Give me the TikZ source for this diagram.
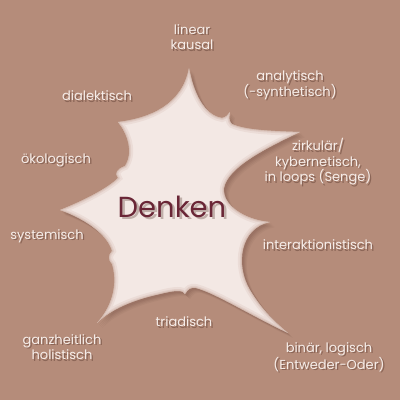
\documentclass[tikz,border=0pt]{standalone}
\usepackage{fontspec}
\setmainfont{Poppins}
\definecolor{bgbrown}{HTML}{B58C7A}
\definecolor{blobfill}{HTML}{F3E8E4}
\definecolor{labeltext}{HTML}{F6EDE9}
\definecolor{denkencol}{HTML}{6A2636}
\definecolor{shadowcol}{HTML}{4A2A20}
\colorlet{denkenshadow}{shadowcol!30!blobfill}
\newcommand\blobpath{(189,68) .. controls (195,100) and (208,116) .. (222,118)
  .. controls (226,117) and (228,115) .. (230,112)
  .. controls (229,118) and (229,121) .. (232,124)
  .. controls (245,130) and (270,131) .. (300,132)
  .. controls (262,150) and (228,168) .. (224,188)
  .. controls (222,205) and (245,220) .. (270,222)
  .. controls (240,228) and (235,265) .. (250,290)
  .. controls (262,310) and (275,322) .. (288,333)
  .. controls (250,315) and (215,293) .. (196,288)
  .. controls (191,287) and (188,289) .. (185,294)
  .. controls (183,290) and (176,290) .. (160,294)
  .. controls (132,300) and (110,310) .. (97,323)
  .. controls (115,303) and (117,280) .. (112,264)
  .. controls (108,260) and (108,255) .. (112,251)
  .. controls (108,236) and (88,220) .. (60,210)
  .. controls (85,200) and (108,188) .. (118,178)
  .. controls (114,173) and (117,169) .. (125,166)
  .. controls (134,152) and (127,133) .. (118,122)
  .. controls (150,118) and (182,105) .. cycle}
\tikzset{
  lbl/.style={font=\fontsize{13}{15.5}\selectfont, text=labeltext, align=center, inner sep=0pt},
  lblshadow/.style={font=\fontsize{13}{15.5}\selectfont, text=shadowcol, opacity=0.4, align=center, inner sep=0pt},
}
\begin{document}
\begin{tikzpicture}[x=1pt,y=-1pt]
\fill[bgbrown] (0,0) rectangle (400,400);
\useasboundingbox (0,0) rectangle (400,400);
% blob shadow
\foreach \d/\o in {5/0.05,4/0.06,3/0.07,2/0.08} {
  \fill[shadowcol, opacity=\o, shift={(\d pt,-\d pt)}] \blobpath;
}
% blob
\fill[blobfill] \blobpath;
\begin{scope}
  \clip \blobpath;
  \draw[bgbrown, opacity=0.12, line width=8pt] \blobpath;
  \draw[bgbrown, opacity=0.18, line width=4pt] \blobpath;
  \draw[bgbrown, opacity=0.25, line width=1.5pt] \blobpath;
\end{scope}
% center word with its shadow in one node
\node[font=\fontsize{29}{29}\selectfont, text=denkencol] (denken) at (172,208)
  {\rlap{\kern2.5pt\raisebox{-2.5pt}{\textcolor{denkenshadow}{Denken}}}Denken};
% labels
\foreach \n/\x/\y/\t in {
  lin/192/37/{linear\\kausal},
  ana/290/85/{analytisch\\(-synthetisch)},
  dia/97/96/{dialektisch},
  oko/56/160/{ökologisch},
  zir/318/162/{zirkulär/\\kybernetisch,\\in loops (Senge)},
  sys/47/236/{systemisch},
  int/318/245/{interaktionistisch},
  tri/184/322/{triadisch},
  gan/62/347/{ganzheitlich\\holistisch},
  bin/329/357/{binär, logisch\\(Entweder-Oder)}} {
  \node[lblshadow] (\n s) at (\x+1.5,\y+1.5) {\t};
  \node[lbl] (\n) at (\x,\y) {\t};
}
\end{tikzpicture}
\end{document}
